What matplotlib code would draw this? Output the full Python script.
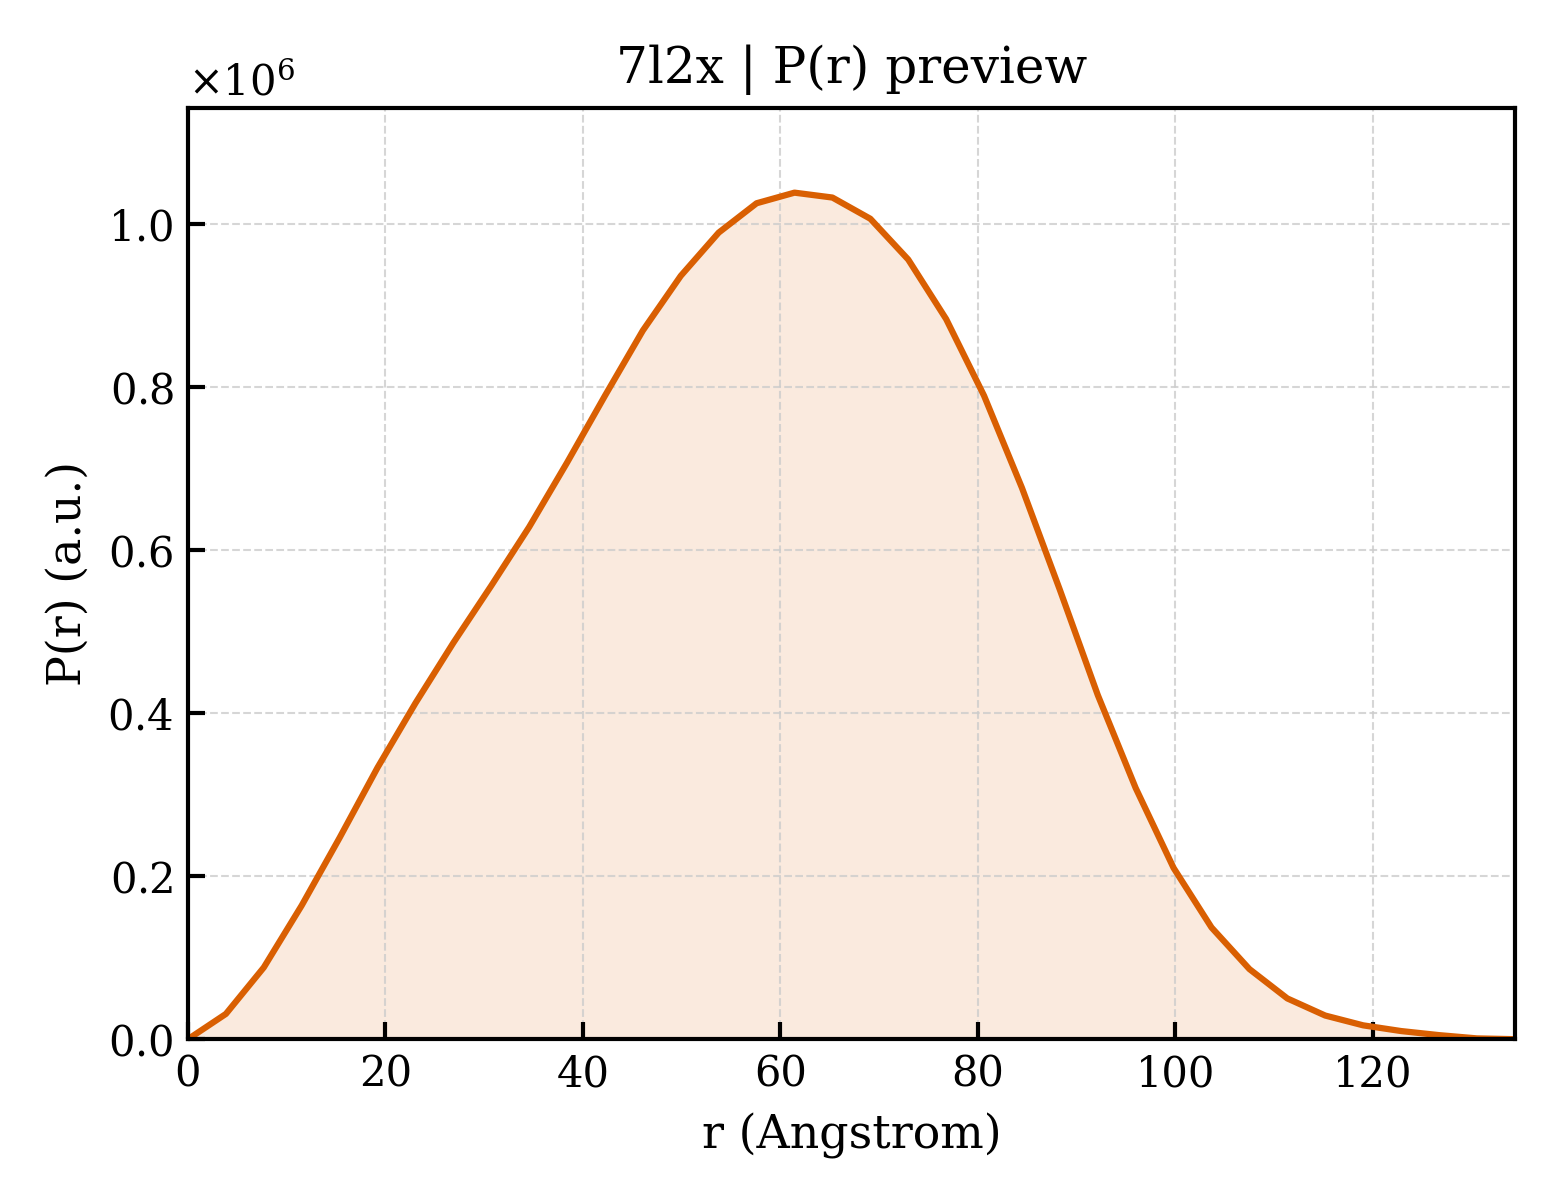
import numpy as np
import matplotlib
matplotlib.use('Agg')
import matplotlib.pyplot as plt

# P(r) values (units of 1e6)
r = [0.0, 3.84, 7.68, 11.52, 15.36, 19.2, 23.04, 26.88, 30.72, 34.56,
     38.4, 42.24, 46.08, 49.92, 53.76, 57.6, 61.44, 65.28, 69.12, 72.96,
     76.8, 80.64, 84.48, 88.32, 92.16, 96.0, 99.84, 103.68, 107.52, 111.36,
     115.2, 119.04, 122.88, 126.72, 130.56, 134.4]
pr = [0.0, 0.031, 0.088, 0.164, 0.247, 0.333, 0.412, 0.486, 0.556, 0.628,
      0.707, 0.789, 0.869, 0.936, 0.989, 1.025, 1.038, 1.032, 1.006, 0.956,
      0.883, 0.789, 0.676, 0.551, 0.422, 0.308, 0.210, 0.137, 0.086, 0.050,
      0.029, 0.017, 0.010, 0.005, 0.001, 0.0]
pr = np.array(pr) * 1e6

plt.rcParams['font.family'] = 'DejaVu Serif'
plt.rcParams['mathtext.fontset'] = 'dejavuserif'

fig = plt.figure(figsize=(5.2, 4), dpi=300)
ax = fig.add_axes([0.1205, 0.134, 0.8505, 0.776])

color = '#d95f02'
ax.fill_between(r, pr, 0, color=color, alpha=0.13, linewidth=0)
ax.plot(r, pr, color=color, linewidth=1.5)

ax.set_xlim(0, max(r))
ax.set_ylim(0, max(pr) * 1.1)
ax.set_xticks([0, 20, 40, 60, 80, 100, 120])
ax.ticklabel_format(axis='y', style='sci', scilimits=(0, 0), useMathText=True)

ax.tick_params(direction='in', labelsize=10, width=1, length=4)
ax.grid(True, linestyle='--', linewidth=0.5, color='#cccccc', alpha=0.8)
for s in ax.spines.values():
    s.set_linewidth(1.0)

ax.set_xlabel('r (Angstrom)', fontsize=11)
ax.set_ylabel('P(r) (a.u.)', fontsize=11)
ax.set_title('7l2x | P(r) preview', fontsize=12)
ax.yaxis.get_offset_text().set_fontsize(10)

fig.savefig('out.png', dpi=300)
